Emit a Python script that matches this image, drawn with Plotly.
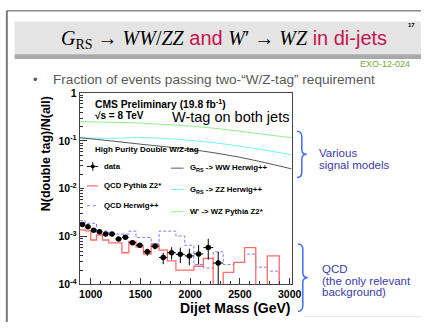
import plotly.graph_objects as go

W, H = 431, 328

# ---------------------------------------------------------------- data
# dijet mass binning (GeV)
mass_edges = [890, 944, 1000, 1058, 1118, 1181, 1246, 1313, 1383, 1455, 1530,
              1607, 1687, 1770, 1856, 1945, 2037, 2132, 2231, 2332, 2438, 2546,
              2659, 2775, 2895, 3019]

# data: fraction of events with two W/Z tags (first 19 bins)
data_frac = [1.80e-3, 1.61e-3, 1.36e-3, 1.26e-3, 1.13e-3, 1.13e-3, 8.95e-4,
             9.68e-4, 7.43e-4, 6.59e-4, 4.82e-4, 6.28e-4, 3.65e-4, 4.60e-4,
             4.26e-4, 3.95e-4, 4.34e-4, 5.89e-4, 2.80e-4]
data_hi = [1.88e-3, 1.69e-3, 1.43e-3, 1.33e-3, 1.20e-3, 1.20e-3, 9.7e-4,
           1.05e-3, 8.4e-4, 7.3e-4, 5.6e-4, 7.3e-4, 4.6e-4, 6.0e-4,
           5.9e-4, 5.6e-4, 6.7e-4, 9.0e-4, 4.8e-4]
data_lo = [1.72e-3, 1.53e-3, 1.29e-3, 1.19e-3, 1.06e-3, 1.06e-3, 8.2e-4,
           8.9e-4, 6.7e-4, 5.8e-4, 3.95e-4, 5.4e-4, 2.65e-4, 3.3e-4,
           2.8e-4, 2.5e-4, 2.6e-4, 3.3e-4, 3.0e-5]

# QCD simulation, per bin (0 = empty bin)
qcd_pythia = [1.38e-3, 1.32e-3, 8.5e-4, 1.08e-3, 8.5e-4, 7.4e-4, 7.4e-4,
              4.6e-4, 7.9e-4, 6.1e-4, 4.3e-4, 6.8e-4, 5.2e-4, 3.1e-4,
              2.0e-4, 2.0e-4, 2.4e-4, 3.5e-4, 0.0, 1.78e-4, 2.9e-4, 5.9e-4,
              0.0, 3.95e-4, 0.0]
qcd_herwig = [2.16e-3, 1.90e-3, 1.90e-3, 1.30e-3, 1.30e-3, 1.13e-3, 1.13e-3,
              1.13e-3, 1.30e-3, 9.6e-4, 9.6e-4, 7.1e-4, 1.30e-3, 1.30e-3,
              1.03e-3, 6.6e-4, 2.6e-4, 2.2e-4, 4.8e-4, 2.6e-4, 2.9e-4,
              4.3e-4, 2.3e-4, 1.9e-4, 0.0]

# signal models
sig_mass = [890, 1000, 1250, 1500, 1750, 2000, 2250, 2500, 2750, 3019]
wprime_wz = [0.254, 0.251, 0.245, 0.237, 0.221, 0.206, 0.184, 0.160, 0.137, 0.117]
grs_zz = [0.117, 0.1155, 0.114, 0.118, 0.113, 0.103, 0.0916, 0.0778, 0.0646, 0.0513]
grs_ww = [0.117, 0.111, 0.098, 0.0858, 0.076, 0.0668, 0.0562, 0.0456, 0.0353, 0.0261]

y_tickvals = [1e-4, 1e-3, 1e-2, 1e-1, 1]
y_ticktext = ["10<sup>-4</sup>", "10<sup>-3</sup>", "10<sup>-2</sup>", "10<sup>-1</sup>", "1"]
x_tickvals = [1000, 1500, 2000, 2500, 3000]

# ---------------------------------------------------------------- helpers
def px(x):
    return x / W


def py(y):
    return 1 - y / H


FLOOR = 1e-5  # empty bins drop just below the axis


def step(vals):
    xs = mass_edges[:len(vals)] + [mass_edges[len(vals)]]
    ys = [v if v > 0 else FLOOR for v in vals]
    ys = ys + [ys[-1]]
    return xs, ys


centers = [(mass_edges[i] + mass_edges[i + 1]) / 2 for i in range(len(data_frac))]
half_w = [(mass_edges[i + 1] - mass_edges[i]) / 2 for i in range(len(data_frac))]

fig = go.Figure()

RED = "#ff6b6b"
BLUE = "#7b7bff"
GRAY = "#555555"
CYAN = "#6ff5f5"
GREEN = "#8ef08e"

xs, ys = step(qcd_herwig)
fig.add_trace(go.Scatter(x=xs, y=ys, mode="lines", line=dict(color=BLUE, width=1, shape="hv", dash="3px,2px"),
                         hoverinfo="skip"))
xs, ys = step(qcd_pythia)
fig.add_trace(go.Scatter(x=xs, y=ys, mode="lines", line=dict(color=RED, width=1.3, shape="hv"),
                         hoverinfo="skip"))

for vals, col in [(wprime_wz, GREEN), (grs_zz, CYAN), (grs_ww, GRAY)]:
    fig.add_trace(go.Scatter(x=sig_mass, y=vals, mode="lines", line=dict(color=col, width=1, shape="spline"),
                             hoverinfo="skip"))

fig.add_trace(go.Scatter(
    x=centers, y=data_frac, mode="markers",
    marker=dict(color="black", size=5.5),
    error_y=dict(type="data", symmetric=False,
                 array=[h - v for h, v in zip(data_hi, data_frac)],
                 arrayminus=[v - l for v, l in zip(data_frac, data_lo)],
                 color="black", thickness=1, width=0),
    error_x=dict(type="data", array=half_w, color="black", thickness=1, width=0),
    hoverinfo="skip"))

# ---------------------------------------------------------------- axes
x0, x1, y0, y1 = 81.7, 298.5, 90.5, 289.0
fig.update_layout(
    width=W, height=H, margin=dict(l=0, r=0, t=0, b=0),
    paper_bgcolor="white", plot_bgcolor="white", showlegend=False,
    xaxis=dict(domain=[px(x0), px(x1)], range=[890, 3019], tickvals=x_tickvals,
               ticks="inside", ticklen=6, tickcolor="#333", showgrid=False, zeroline=False,
               showline=True, linecolor="#444", linewidth=1, mirror=True,
               tickfont=dict(family="Liberation Sans", size=10.5, color="black", weight="bold"),
               minor=dict(ticks="inside", ticklen=3, dtick=100, tickcolor="#333", showgrid=False)),
    yaxis=dict(domain=[py(y1), py(y0)], type="log", range=[-4, 0],
               tickmode="array", tickvals=y_tickvals, ticktext=y_ticktext,
               ticks="inside", ticklen=7, tickcolor="#333", showgrid=False, zeroline=False,
               showline=True, linecolor="#444", linewidth=1, mirror=True,
               tickfont=dict(family="Liberation Sans", size=10.5, color="black", weight="bold"),
               minor=dict(ticks="inside", ticklen=3, tickcolor="#333", showgrid=False,
                          tickmode="array",
                          tickvals=[k * 10.0 ** e for e in range(-4, 0) for k in range(2, 10)])),
)

shapes = []
ann = []


def text(x, y, s, size, color="black", bold=False, family="Liberation Sans", xa="left", ya="middle", angle=0):
    ann.append(dict(xref="paper", yref="paper", x=px(x), y=py(y), text=s, showarrow=False,
                    xanchor=xa, yanchor=ya, textangle=angle,
                    font=dict(family=family, size=size, color=color, weight="bold" if bold else "normal")))


def line(xa, ya, xb, yb, color, width=1, dash="solid"):
    shapes.append(dict(type="path", xref="paper", yref="paper",
                       path=f"M {px(xa)},{py(ya)} L {px(xb)},{py(yb)}",
                       line=dict(color=color, width=width, dash=dash)))


def bar(xa, xb, yc, color, thick):
    # thin filled strip used as a legend sample
    shapes.append(dict(type="rect", xref="paper", yref="paper", x0=px(xa), x1=px(xb),
                       y0=py(yc + thick / 2), y1=py(yc - thick / 2), fillcolor=color, line=dict(width=0)))


# slide frame and title band
shapes.append(dict(type="rect", xref="paper", yref="paper", x0=px(15), x1=1, y0=py(50), y1=py(16),
                   line=dict(width=0), fillcolor="#e4e4e4", layer="below"))
shapes.append(dict(type="rect", xref="paper", yref="paper", x0=px(15), x1=1, y0=py(55), y1=py(50),
                   line=dict(width=0), fillcolor="#a9a9a9", layer="below"))
line(7, 5, 431, 5, "#8a8a8a", 1.5)
line(7, 5, 7, 328, "#7a7a7a", 2)
line(312, 322.5, 431, 322.5, "#e6e6e6", 1)

title_html = ("<span style='font-family:Liberation Serif'><i>G</i><sub>RS</sub> → <i>WW</i>/<i>ZZ</i></span> "
              "<span style='color:#c8124f'>and</span> "
              "<span style='font-family:Liberation Serif'><i>W</i>′ → <i>WZ</i></span> "
              "<span style='color:#c8124f'>in di-jets</span>")
text(229, 35, title_html, 20, xa="center")
text(421, 20, "17", 6, bold=True, xa="center")
text(422, 60, "EXO-12-024", 9, color="#7aa83a", xa="right")
text(32, 76, "•", 13, color="#595959")
text(52, 76, "Fraction of events passing two-“W/Z-tag” requirement", 13.6, color="#595959")

# plot annotations
text(95, 101, "CMS Preliminary (19.8 fb<sup>-1</sup>)", 10.3, bold=True)
text(95, 113.5, "√s = 8 TeV", 10, bold=True)
text(298, 115, "W-tag on both jets", 14.5, xa="right")
text(95, 148.5, "High Purity Double W/Z-tag", 8, bold=True)

# legend
shapes.append(dict(type="rect", xref="paper", yref="paper", x0=px(86), x1=px(102), y0=py(193), y1=py(178),
                   fillcolor="white", line=dict(width=0)))
bar(89, 100.5, 166.5, "black", 1)
bar(94.5, 95.5, 166.5, "black", 9)
shapes.append(dict(type="circle", xref="paper", yref="paper", x0=px(93), x1=px(97), y0=py(168.5), y1=py(164.5),
                   fillcolor="black", line=dict(color="black", width=0)))
text(104, 166.5, "data", 7.8, bold=True)
bar(89, 100.5, 186.7, RED, 1.2)
text(104, 186.7, "QCD Pythia Z2*", 7.8, bold=True)
line(89, 207.3, 100.5, 207.3, BLUE, 1, "dot")
text(104, 207.3, "QCD Herwig++", 7.8, bold=True)
bar(175, 188, 168.3, GRAY, 1)
text(192, 168.3, "G<sub>RS</sub> -> WW Herwig++", 7.8, bold=True)
bar(175, 188, 190.5, CYAN, 1)
text(192, 190.5, "G<sub>RS</sub> -> ZZ Herwig++", 7.8, bold=True)
bar(175, 188, 213.5, GREEN, 1)
text(192, 213.5, "W' -> WZ Pythia Z2*", 7.8, bold=True)

# axis titles
text(47, 153, "N(double tag)/N(all)", 12.5, bold=True, xa="center", angle=-90)
text(299, 313, "Dijet Mass (GeV)", 14, bold=True, xa="right")

# braces and side notes
BR = "#3f6ff5"


def brace(x, ytop, ybot, ytip):
    w = 10
    path = (f"M {px(x)},{py(ytop)} Q {px(x + w/2)},{py(ytop)} {px(x + w/2)},{py(ytop + 6)} "
            f"L {px(x + w/2)},{py(ytip - 5)} Q {px(x + w/2)},{py(ytip)} {px(x + w)},{py(ytip)} "
            f"Q {px(x + w/2)},{py(ytip)} {px(x + w/2)},{py(ytip + 5)} "
            f"L {px(x + w/2)},{py(ybot - 6)} Q {px(x + w/2)},{py(ybot)} {px(x)},{py(ybot)}")
    shapes.append(dict(type="path", xref="paper", yref="paper", path=path, line=dict(color=BR, width=1.5)))


brace(304, 130, 178, 154)
brace(305, 247, 317, 282)
NOTE = "#3b3ba8"
text(325, 153, "Various", 11.5, color=NOTE)
text(325, 165, "signal models", 11.5, color=NOTE)
text(328, 272.5, "QCD", 11.5, color=NOTE)
text(328, 285, "(the only relevant", 11.5, color=NOTE)
text(328, 297, "background)", 11.5, color=NOTE)

fig.update_layout(shapes=shapes, annotations=ann)
fig.write_html("out.html")
